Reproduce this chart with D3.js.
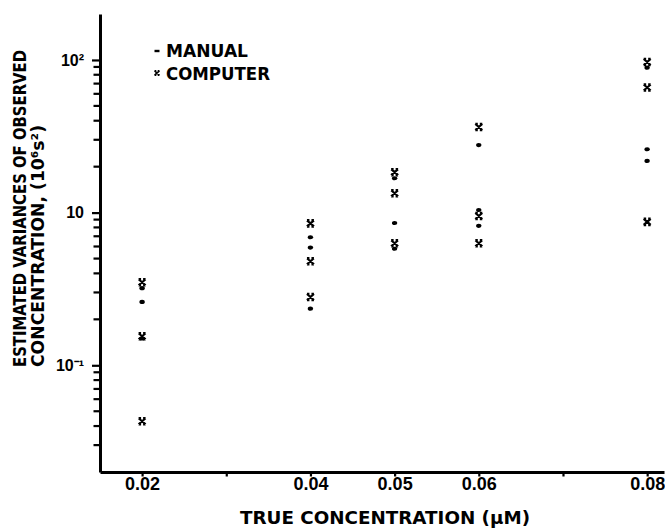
<!DOCTYPE html>
<html>
<head>
<meta charset="utf-8">
<script src="https://cdn.jsdelivr.net/npm/d3@7"></script>
<style>
  body { margin: 0; background: #fff; }
  text { font-family: "DejaVu Sans", "Liberation Sans", sans-serif; font-weight: bold; fill: #000; }
</style>
</head>
<body>
<div class="chart-container"></div>
<script>
// data
const concentrations = [0.02, 0.04, 0.05, 0.06, 0.08];
const manualValues = [
  [3.2, 2.6, 1.5],
  [6.9, 5.9, 2.35],
  [16.8, 8.55, 5.8],
  [27.7, 10.4, 8.2],
  [89, 26, 21.8],
];
const computerValues = [
  [3.5, 1.55, 0.43],
  [8.5, 4.8, 2.8],
  [18.4, 13.4, 6.3],
  [36.4, 9.5, 6.3],
  [97, 66, 8.7],
];
const xTickValues = [0.02, 0.03, 0.04, 0.05, 0.06, 0.07, 0.08];
const xTickLabels = ["0.02", "", "0.04", "0.05", "0.06", "", "0.08"];
const yMajorTicks = [1, 10, 100];
const yTickLabels = ["10⁻¹", "10", "10²"];
const yMinorTicks = [
  0.3, 0.4, 0.5, 0.6, 0.7, 0.8, 0.9,
  2, 3, 4, 5, 6, 7, 8, 9,
  20, 30, 40, 50, 60, 70, 80, 90,
];
const legendLabels = ["MANUAL", "COMPUTER"];
const yTitleLines = ["ESTIMATED VARIANCES OF OBSERVED", "CONCENTRATION, (10⁶s²)"];
const xTitle = "TRUE CONCENTRATION (μM)";

// size of the picture
let width = 665;
let height = 528;

const svg = d3
  .select(".chart-container")
  .append("svg")
  .attr("width", width)
  .attr("height", height);

// scales
const x = d3.scaleLinear().domain([0.015, 0.082]).range([100, 664]);
const y = d3.scaleLog().domain([0.2, 200]).range([472, 14]);

// y axis with the decade labels
const yAxis = svg
  .append("g")
  .attr("transform", "translate(" + x.range()[0] + ",0)")
  .call(
    d3
      .axisLeft(y)
      .tickValues(yMajorTicks)
      .tickSize(8)
      .tickSizeOuter(0)
      .tickPadding(8)
      .tickFormat((d, i) => yTickLabels[i])
  );
yAxis.select(".domain").attr("stroke-width", 3);
yAxis.selectAll(".tick line").attr("stroke-width", 2.2);
yAxis.selectAll("text").style("font-size", "16px").style("font-family", "Liberation Sans");

// minor y ticks
svg
  .append("g")
  .selectAll("line")
  .data(yMinorTicks)
  .enter()
  .append("line")
  .attr("x1", x.range()[0] - 6.5)
  .attr("x2", x.range()[0])
  .attr("y1", (d) => y(d))
  .attr("y2", (d) => y(d))
  .attr("stroke", "#000")
  .attr("stroke-width", 2.2);

// x axis
const xAxis = svg
  .append("g")
  .attr("transform", "translate(0," + y.range()[0] + ")")
  .call(
    d3
      .axisBottom(x)
      .tickValues(xTickValues)
      .tickSize(4.5)
      .tickSizeOuter(0)
      .tickPadding(1)
      .tickFormat((d, i) => xTickLabels[i])
  );
xAxis.select(".domain").attr("stroke-width", 3);
xAxis.selectAll("line").attr("stroke-width", 2.2);
xAxis.selectAll("text").style("font-size", "18px").style("font-family", "Liberation Sans");

// symbols
const crossPath = "M-3.5,-3L3.5,3M-3.5,3L3.5,-3M-3.5,-3.2H-1M1,-3.2H3.5M-3.5,3.2H-1M1,3.2H3.5";

function addCross(sel) {
  sel
    .append("path")
    .attr("d", crossPath)
    .attr("stroke", "#000")
    .attr("stroke-width", 2.2)
    .attr("fill", "none");
}

function addDot(sel) {
  sel.append("ellipse").attr("rx", 2.7).attr("ry", 2.1).attr("fill", "#000");
}

// flatten the values per concentration
const manualPoints = [];
const computerPoints = [];
concentrations.forEach((c, i) => {
  manualValues[i].forEach((v) => manualPoints.push({ c: c, v: v }));
  computerValues[i].forEach((v) => computerPoints.push({ c: c, v: v }));
});

svg
  .append("g")
  .selectAll("g")
  .data(manualPoints)
  .enter()
  .append("g")
  .attr("transform", (d) => "translate(" + x(d.c) + "," + y(d.v) + ")")
  .call(addDot);

svg
  .append("g")
  .selectAll("g")
  .data(computerPoints)
  .enter()
  .append("g")
  .attr("transform", (d) => "translate(" + x(d.c) + "," + y(d.v) + ")")
  .call(addCross);

// legend
const legend = svg.append("g");
legend
  .append("rect")
  .attr("x", 154.5)
  .attr("y", 49.8)
  .attr("width", 5)
  .attr("height", 2.4);
legend
  .append("g")
  .attr("transform", "translate(157,73) scale(0.7)")
  .call(addCross);
legend
  .selectAll("text")
  .data(legendLabels)
  .enter()
  .append("text")
  .attr("x", 166)
  .attr("y", (d, i) => 57 + i * 23)
  .attr("textLength", (d, i) => [82, 104][i])
  .attr("lengthAdjust", "spacingAndGlyphs")
  .style("font-size", "17px")
  .text((d) => d);

// axis titles
svg
  .selectAll(".y-title")
  .data(yTitleLines)
  .enter()
  .append("text")
  .attr("class", "y-title")
  .attr("transform", (d, i) => "translate(" + [25.5, 44][i] + ",367) rotate(-90)")
  .attr("textLength", (d, i) => [317, 242][i])
  .attr("lengthAdjust", "spacingAndGlyphs")
  .style("font-size", "17px")
  .text((d) => d);

svg
  .append("text")
  .attr("x", 240)
  .attr("y", 524)
  .attr("textLength", 290)
  .attr("lengthAdjust", "spacingAndGlyphs")
  .style("font-size", "18px")
  .text(xTitle);
</script>
</body>
</html>
